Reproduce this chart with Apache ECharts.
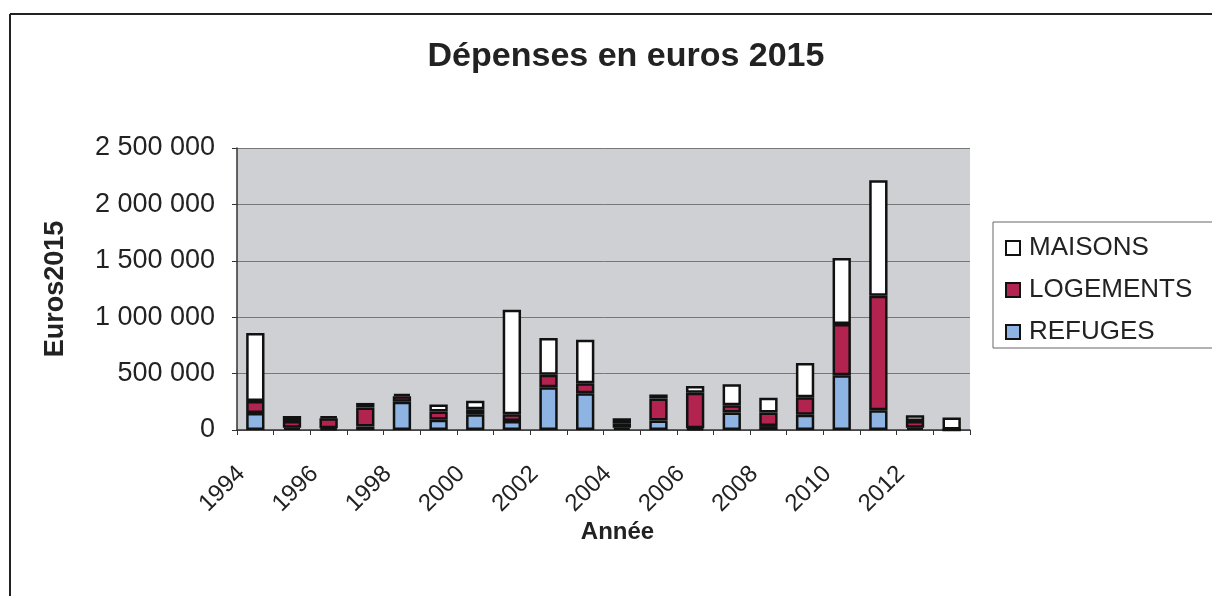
<!DOCTYPE html>
<html>
<head>
<meta charset="utf-8">
<script src="https://cdn.jsdelivr.net/npm/echarts@6/dist/echarts.min.js"></script>
<style>
  html, body { margin: 0; padding: 0; background: #fff; }
  #chart { width: 1212px; height: 596px; }
</style>
</head>
<body>
<div id="chart"></div>
<script>
const years = ['1994', '1995', '1996', '1997', '1998', '1999', '2000', '2001', '2002', '2003',
  '2004', '2005', '2006', '2007', '2008', '2009', '2010', '2011', '2012', '2013']
const refuges = [150000, 20000, 15000, 30000, 250000, 90000, 140000, 80000, 380000, 325000,
  20000, 85000, 15000, 155000, 35000, 135000, 485000, 175000, 20000, 0]
const logements = [107000, 60000, 90000, 170000, 50000, 75000, 45000, 60000, 110000, 90000,
  40000, 195000, 315000, 65000, 120000, 155000, 455000, 1015000, 60000, 5000]
const maisons = [603000, 45000, 15000, 40000, 20000, 60000, 75000, 925000, 325000, 385000,
  45000, 35000, 60000, 185000, 130000, 305000, 585000, 1025000, 50000, 105000]

const font = 'Liberation Sans, Arial, sans-serif'
const chart = echarts.init(document.getElementById('chart'))

const barSeries = (name, data, color) => ({
  name,
  type: 'bar',
  stack: 'total',
  data,
  barWidth: '50%',
  itemStyle: { color, borderColor: '#111', borderWidth: 2.5 },
})

chart.setOption({
  animation: false,
  backgroundColor: '#fff',
  textStyle: { fontFamily: font },
  title: {
    text: 'Dépenses en euros 2015',
    left: 621, top: 35, textAlign: 'center',
    textStyle: { fontSize: 34, fontWeight: 'bold', color: '#222', fontFamily: font },
  },
  graphic: [
    { type: 'line', shape: { x1: 10, y1: 14, x2: 1212, y2: 14 }, style: { stroke: '#222', lineWidth: 2 } },
    { type: 'line', shape: { x1: 10, y1: 14, x2: 10, y2: 596 }, style: { stroke: '#222', lineWidth: 2 } },
    { type: 'rect', shape: { x: 993, y: 222, width: 225, height: 126 }, style: { fill: '#fff', stroke: '#666', lineWidth: 1 }, z: 0 },
  ],
  legend: {
    orient: 'vertical',
    left: 1000, top: 230,
    itemGap: 16,
    itemWidth: 14, itemHeight: 14,
    icon: 'rect',
    data: ['MAISONS', 'LOGEMENTS', 'REFUGES'],
    textStyle: { fontSize: 26, color: '#222', fontFamily: font, padding: [0, 0, 0, 4] },
    z: 5,
  },
  grid: { left: 237, right: 242, top: 148, bottom: 166, backgroundColor: '#cfd0d3', show: true, borderWidth: 0 },
  xAxis: {
    type: 'category',
    data: years,
    name: 'Année',
    nameLocation: 'middle',
    nameGap: 90,
    nameTextStyle: { fontSize: 24, fontWeight: 'bold', color: '#222', fontFamily: font, padding: [0, 0, 0, 28] },
    axisLine: { lineStyle: { color: '#333', width: 1.5 } },
    axisTick: { show: true, alignWithLabel: false, interval: 0, lineStyle: { color: '#333' } },
    axisLabel: {
      interval: 1, rotate: 45, fontSize: 24, color: '#222', margin: 26, fontFamily: font,
      padding: [0, 20, 0, 0],
    },
  },
  yAxis: {
    type: 'value',
    min: 0, max: 2500000, interval: 500000,
    name: 'Euros2015',
    nameLocation: 'middle',
    nameGap: 168,
    nameRotate: 90,
    nameTextStyle: { fontSize: 27, fontWeight: 'bold', color: '#222', fontFamily: font },
    axisLine: { show: true, lineStyle: { color: '#333', width: 1.5 } },
    axisTick: { show: true, lineStyle: { color: '#333' } },
    splitLine: { lineStyle: { color: '#777', width: 1 } },
    axisLabel: {
      fontSize: 27, color: '#222', margin: 22, fontFamily: font,
      formatter: v => String(v).replace(/\B(?=(\d{3})+(?!\d))/g, ' '),
    },
  },
  series: [
    barSeries('REFUGES', refuges, '#8db4e2'),
    barSeries('LOGEMENTS', logements, '#b3234f'),
    barSeries('MAISONS', maisons, '#ffffff'),
  ],
})
</script>
</body>
</html>
